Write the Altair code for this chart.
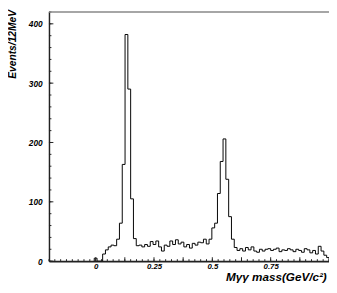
import altair as alt
import pandas as pd

# ---- data ----
bin_start = -0.006
bin_width = 0.012
counts = [5, 0, 0, 12, 19, 24, 27, 26, 37, 64,
          163, 382, 290, 105, 38, 26, 27, 24, 28, 25,
          33, 28, 34, 24, 17, 27, 25, 34, 28, 36,
          29, 32, 24, 28, 22, 30, 27, 32, 31, 37,
          29, 37, 56, 64, 114, 168, 206, 138, 75, 37,
          23, 18, 21, 17, 23, 19, 24, 17, 15, 20,
          17, 20, 21, 18, 20, 22, 16, 19, 18, 21,
          19, 16, 20, 18, 15, 21, 19, 14, 18, 12,
          25, 17, 10, 6]
x_labels = [0, 0.25, 0.5, 0.75]
x_major = [0, 0.25, 0.5, 0.75, 1.0]
x_minor = [round(-0.2 + 0.025 * k, 3) for k in range(49)]
y_major = [0, 100, 200, 300, 400]
y_minor = list(range(0, 421, 20))

W, H = 287, 256
FONT = "Liberation Sans"

edges = [round(bin_start + bin_width * i, 4) for i in range(len(counts) + 1)]
rows = [{"i": 0, "x": edges[0], "y": 0}]
for k, c in enumerate(counts):
    rows.append({"i": k + 1, "x": edges[k], "y": c})
rows.append({"i": len(counts) + 1, "x": edges[-1], "y": counts[-1]})
rows.append({"i": len(counts) + 2, "x": edges[-1], "y": 0})
df = pd.DataFrame(rows)

xscale = alt.Scale(domain=[-0.2, 1.0], nice=False, zero=False)
yscale = alt.Scale(domain=[0, 421], nice=False)

xaxis = alt.Axis(values=x_labels, format=".2~f", ticks=False, tickSize=0,
                 labelPadding=2, labelFontSize=8, grid=False, labelFlush=False,
                 labelOverlap=False,
                 domainColor="#222", domainWidth=2,
                 title="Mγγ mass(GeV/c²)", titleFontSize=12,
                 titleX=181, titleY=20, titleAlign="left",
                 titleBaseline="alphabetic", titleAngle=0)
yaxis = alt.Axis(values=y_major, format="d", ticks=False, tickSize=0,
                 labelPadding=7, labelFontSize=8.5, grid=False, labelFlush=False,
                 domainColor="#222", domainWidth=1.5,
                 title="Events/12MeV", titleFontSize=10.5,
                 titleX=-32, titleY=-2, titleAngle=270,
                 titleAlign="right", titleBaseline="bottom")

hist = alt.Chart(df).mark_line(interpolate="step-after", color="black",
                               strokeWidth=1, clip=True).encode(
    x=alt.X("x:Q", scale=xscale, axis=xaxis),
    y=alt.Y("y:Q", scale=yscale, axis=yaxis),
    order="i:Q",
)

ymin_df = pd.DataFrame({"v": y_minor})
ymaj_df = pd.DataFrame({"v": y_major})
xmin_df = pd.DataFrame({"v": x_minor})
xmaj_df = pd.DataFrame({"v": x_major + [0.125, 0.375, 0.625, 0.875]})

ytick_minor = alt.Chart(ymin_df).mark_rule(color="#222", strokeWidth=1).encode(
    y=alt.Y("v:Q", scale=yscale, axis=yaxis), x=alt.value(0), x2=alt.value(2.5))
ytick_major = alt.Chart(ymaj_df).mark_rule(color="#222", strokeWidth=1).encode(
    y=alt.Y("v:Q", scale=yscale, axis=yaxis), x=alt.value(0), x2=alt.value(4.5))
xtick_minor = alt.Chart(xmin_df).mark_rule(color="#222", strokeWidth=1).encode(
    x=alt.X("v:Q", scale=xscale, axis=xaxis), y=alt.value(H), y2=alt.value(H - 2))
xtick_major = alt.Chart(xmaj_df).mark_rule(color="#222", strokeWidth=1).encode(
    x=alt.X("v:Q", scale=xscale, axis=xaxis), y=alt.value(H), y2=alt.value(H - 4))
frame_top = alt.Chart(pd.DataFrame({"a": [0]})).mark_rule(color="#888", strokeWidth=1.5).encode(
    x=alt.value(0), x2=alt.value(W), y=alt.value(0.75))

chart = alt.layer(hist, ytick_minor, ytick_major, xtick_minor, xtick_major, frame_top).properties(
    width=W, height=H,
    autosize=alt.AutoSizeParams(type="none"),
    padding={"left": 42, "top": 0, "right": 0, "bottom": 21},
).configure_view(stroke=None).configure_axis(
    labelFont=FONT, titleFont=FONT, labelFontStyle="italic", labelFontWeight="bold",
    titleFontStyle="italic", titleFontWeight="bold", labelColor="black", titleColor="black",
)

chart.save("out.html", embed_options={"renderer": "svg", "actions": False})
